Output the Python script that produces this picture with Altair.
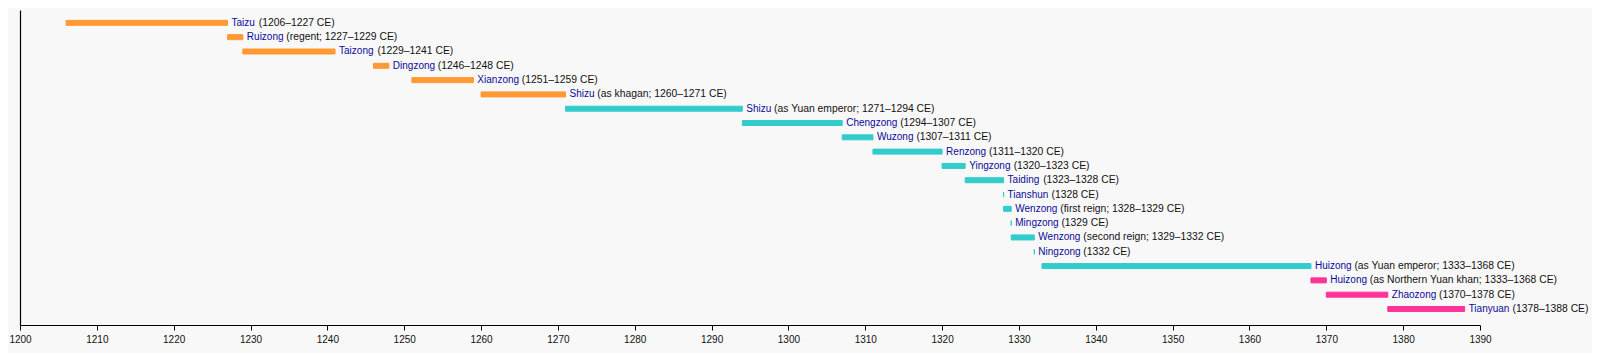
import altair as alt
import pandas as pd

names = ["Taizu", "Ruizong", "Taizong", "Dingzong", "Xianzong", "Shizu", "Shizu",
         "Chengzong", "Wuzong", "Renzong", "Yingzong", "Taiding", "Tianshun", "Wenzong",
         "Mingzong", "Wenzong", "Ningzong", "Huizong", "Huizong", "Zhaozong", "Tianyuan"]
details = ["(1206–1227 CE)", "(regent; 1227–1229 CE)", "(1229–1241 CE)", "(1246–1248 CE)",
           "(1251–1259 CE)", "(as khagan; 1260–1271 CE)", "(as Yuan emperor; 1271–1294 CE)",
           "(1294–1307 CE)", "(1307–1311 CE)", "(1311–1320 CE)", "(1320–1323 CE)",
           "(1323–1328 CE)", "(1328 CE)", "(first reign; 1328–1329 CE)", "(1329 CE)",
           "(second reign; 1329–1332 CE)", "(1332 CE)", "(as Yuan emperor; 1333–1368 CE)",
           "(as Northern Yuan khan; 1333–1368 CE)", "(1370–1378 CE)", "(1378–1388 CE)"]
starts = [1206, 1227, 1229, 1246, 1251, 1260, 1271, 1294, 1307, 1311, 1320, 1323, 1328,
          1328, 1329, 1329, 1332, 1333, 1368, 1370, 1378]
ends = [1227, 1229, 1241, 1248, 1259, 1271, 1294, 1307, 1311, 1320, 1323, 1328, 1328,
        1329, 1329, 1332, 1332, 1368, 1370, 1378, 1388]
periods = ["Khagan"] * 6 + ["Yuan"] * 12 + ["Northern Yuan"] * 3
period_names = ["Khagan", "Yuan", "Northern Yuan"]
period_colors = ["#ff9933", "#33cccc", "#ff3399"]
tick_years = list(range(1200, 1391, 10))

FONT = "Liberation Sans"
FS = 10
FS_DETAIL = 10.35
# Arial / Liberation Sans advance widths (per 1000 em) for measuring name text
W = {c: w for c, w in zip("ABCDEFGHIJKLMNOPQRSTUVWXYZ",
     [667, 667, 722, 722, 667, 611, 778, 722, 278, 500, 667, 556, 833, 722, 778, 667, 778,
      722, 667, 611, 722, 667, 944, 667, 667, 611])}
W.update({c: w for c, w in zip("abcdefghijklmnopqrstuvwxyz",
     [556, 556, 500, 556, 556, 278, 556, 556, 222, 222, 500, 222, 833, 556, 556, 556, 556,
      333, 500, 278, 556, 500, 722, 500, 500, 500])})
W[" "] = 278


def text_width(s):
    return sum(W.get(c, 556) for c in s) * FS / 1000.0


df = pd.DataFrame({
    "row": list(range(len(names))),
    "name": names,
    "detail": details,
    "start": starts,
    "end": ends,
    "period": periods,
})
df["off"] = [4 + text_width(n) + W[" "] * FS / 1000.0 for n in names]

xscale = alt.Scale(domain=[1200, 1390], nice=False, zero=False, padding=0)
yscale = alt.Scale(domain=[-0.9, 21.12], reverse=True, nice=False, zero=False, padding=0)

base = alt.Chart(df)

bars = base.mark_bar(size=5, strokeWidth=1, orient="horizontal").encode(
    x=alt.X("start:Q", scale=xscale,
            axis=alt.Axis(values=tick_years, format="d", title=None, grid=False,
                          domainColor="#000000", tickColor="#000000", tickSize=5,
                          labelPadding=4, labelFont=FONT, labelFontSize=FS,
                          labelFlush=False, labelOverlap=False,
                          labelColor="#111111", domainWidth=1.2)),
    x2="end:Q",
    y=alt.Y("row:Q", scale=yscale,
            axis=alt.Axis(title=None, labels=False, ticks=False, grid=False,
                          domain=True, domainColor="#000000", domainWidth=1.2)),
    color=alt.Color("period:N", scale=alt.Scale(domain=period_names, range=period_colors),
                    legend=None),
    stroke=alt.Stroke("period:N", scale=alt.Scale(domain=period_names, range=period_colors),
                      legend=None),
)

name_text = base.mark_text(align="left", baseline="middle", dx=4, font=FONT,
                           fontSize=FS, color="#0b0b99").encode(
    x=alt.X("end:Q", scale=xscale),
    y=alt.Y("row:Q", scale=yscale),
    text="name:N",
)

detail_text = base.mark_text(align="left", baseline="middle", dx=alt.ExprRef("datum.off"),
                             font=FONT, fontSize=FS_DETAIL, color="#111111").encode(
    x=alt.X("end:Q", scale=xscale),
    y=alt.Y("row:Q", scale=yscale),
    text="detail:N",
)

chart = alt.layer(bars, name_text, detail_text).properties(
    width=1460,
    height=315,
    autosize=alt.AutoSizeParams(type="none"),
    padding={"left": 12, "top": 2, "right": 112, "bottom": 28},
    background="#f8f8f8",
).configure_view(stroke=None)

chart.save("out.html", embed_options={"renderer": "svg", "actions": False})
